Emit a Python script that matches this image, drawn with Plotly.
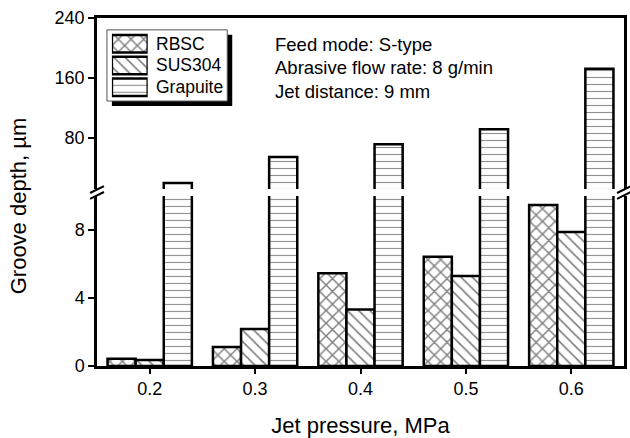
import plotly.graph_objects as go

pressures = [0.2, 0.3, 0.4, 0.5, 0.6]
tick_labels = ["0.2", "0.3", "0.4", "0.5", "0.6"]
rbsc = [0.42, 1.12, 5.45, 6.43, 9.47]
sus304 = [0.35, 2.18, 3.32, 5.29, 7.88]
grapuite = [19, 54, 71, 91, 172]
series_names = ["RBSC", "SUS304", "Grapuite"]
lower_ticks = [0, 4, 8]
upper_ticks = [80, 160, 240]
notes = ["Feed mode: S-type", "Abrasive flow rate: 8 g/min", "Jet distance: 9 mm"]
legend_swatch_len = [1, 1, 1]

W, H = 630, 438
L, R, T, B = 97, 627, 18, 370
low_top, up_bot = 198, 191

def px(x):
    return (x - L) / (R - L)

def py(y):
    return (B - y) / (B - T)

FONT = "Liberation Sans, Arial, sans-serif"
patterns = [
    dict(shape="x", size=9, solidity=0.3, fgcolor="black", bgcolor="white"),
    dict(shape="\\", size=8, solidity=0.2, fgcolor="black", bgcolor="white"),
    dict(shape="-", size=7, solidity=0.16, fgcolor="#222222", bgcolor="white"),
]
data = [rbsc, sus304, grapuite]

fig = go.Figure()
for i, (name, vals) in enumerate(zip(series_names, data)):
    for xa, ya in (("x", "y"), ("x2", "y2")):
        fig.add_trace(go.Bar(
            x=pressures, y=vals, name=name, xaxis=xa, yaxis=ya,
            showlegend=False, offsetgroup=str(i),
            marker=dict(color="white", pattern=patterns[i],
                        line=dict(color="black", width=2.5)),
        ))

# legend swatches (own small axis)
for i, name in enumerate(series_names):
    fig.add_trace(go.Bar(
        x=[legend_swatch_len[i]], y=[name], orientation="h", xaxis="x3", yaxis="y3",
        showlegend=False, hoverinfo="skip", offsetgroup="lg",
        marker=dict(color="white", pattern=patterns[i],
                    line=dict(color="black", width=2.5)),
    ))

axis_common = dict(showline=True, linecolor="black", linewidth=2.5,
                   ticks="outside", tickcolor="black", tickwidth=2,
                   showgrid=False, zeroline=False,
                   tickfont=dict(family=FONT, size=18, color="black"))

lg_top, lg_bot = 33, 99
fig.update_layout(
    width=W, height=H,
    margin=dict(l=L, r=W - R, t=T, b=H - B),
    paper_bgcolor="white", plot_bgcolor="rgba(0,0,0,0)",
    barmode="group", bargap=0.2, bargroupgap=0,
    font=dict(family=FONT, color="black"),
    showlegend=False,
    xaxis=dict(**axis_common, range=[0.15, 0.65], tickvals=pressures,
               ticktext=tick_labels, ticklen=5, anchor="y",
               title=dict(text="Jet pressure, MPa",
                          font=dict(family=FONT, size=22), standoff=20)),
    xaxis2=dict(showline=True, linecolor="black", linewidth=2.5,
                range=[0.15, 0.65], matches="x", anchor="y2", side="top",
                showticklabels=False, ticks="", showgrid=False, zeroline=False),
    yaxis=dict(**axis_common, domain=[0, py(low_top)], range=[0, 10.0],
               tickvals=lower_ticks, ticklen=6, mirror=True, anchor="x"),
    yaxis2=dict(**axis_common, domain=[py(up_bot), 1], range=[11, 240],
                tickvals=upper_ticks, ticklen=6, mirror=True, anchor="x2"),
    xaxis3=dict(domain=[px(112), px(148)], range=[0, 1], visible=False,
                anchor="y3", fixedrange=True),
    yaxis3=dict(domain=[py(lg_bot), py(lg_top)], visible=False, anchor="x3",
                categoryorder="array", categoryarray=series_names[::-1],
                range=[-0.5, 2.5], fixedrange=True),
)

# legend box with shadow
fig.add_shape(type="rect", xref="paper", yref="paper",
              x0=px(112), x1=px(233), y0=py(107), y1=py(35),
              fillcolor="black", line=dict(width=0), layer="below")
fig.add_shape(type="rect", xref="paper", yref="paper",
              x0=px(107), x1=px(228), y0=py(102), y1=py(30),
              fillcolor="white", line=dict(color="#555555", width=1), layer="below")
for i, name in enumerate(series_names):
    fig.add_annotation(text=name, xref="paper", yref="paper",
                       x=px(154), y=py(lg_top + (lg_bot - lg_top) * (i + 0.5) / 3),
                       xanchor="left", yanchor="middle", showarrow=False,
                       font=dict(family=FONT, size=17.5, color="black"))

# axis break marks
for xc in (L, R):
    for dy in (0, 6):
        fig.add_shape(type="line", xref="paper", yref="paper",
                      x0=px(xc - 7), y0=py(195 + dy), x1=px(xc + 7), y1=py(188 + dy),
                      line=dict(color="black", width=2), layer="above")

for k, txt in enumerate(notes):
    fig.add_annotation(text=txt, xref="paper", yref="paper",
                       x=px(274), y=py(45 + 23.5 * k), xanchor="left", yanchor="middle",
                       showarrow=False, font=dict(family=FONT, size=18.5, color="black"))

fig.add_annotation(text="Groove depth, \u00b5m", xref="paper", yref="paper",
                   x=px(18), y=py(208), xanchor="center", yanchor="middle",
                   textangle=-90, showarrow=False,
                   font=dict(family=FONT, size=22, color="black"))

fig.write_html("out.html")
